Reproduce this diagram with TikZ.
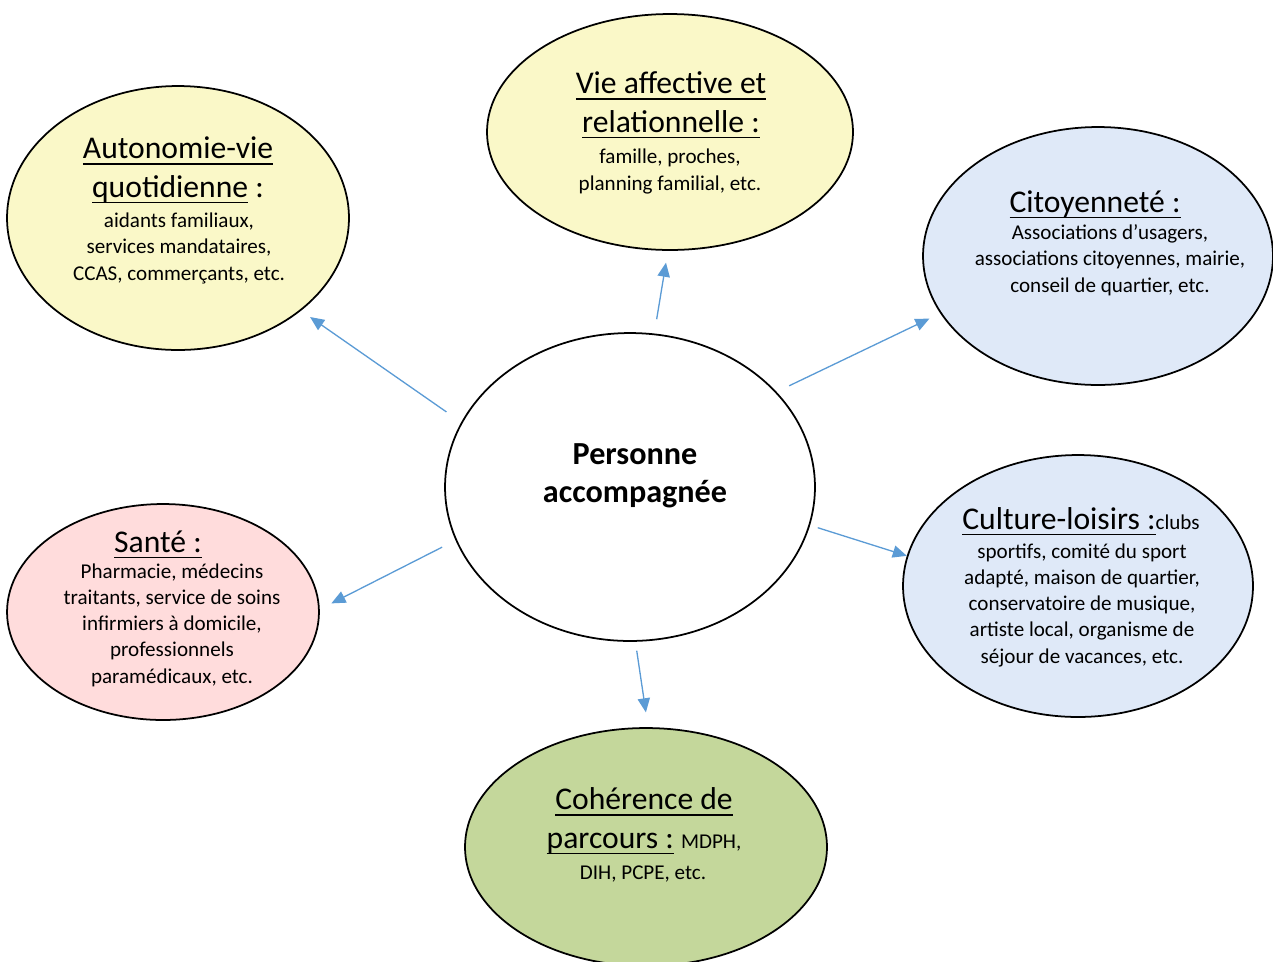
\documentclass[tikz,border=0pt]{standalone}
\usepackage{fontspec}
\setmainfont{Carlito}
\usepackage{tikz}
\usetikzlibrary{shapes.geometric, positioning, arrows.meta}
\definecolor{bubbleyellow}{HTML}{FAF8C8}
\definecolor{bubbleblue}{HTML}{DFE9F8}
\definecolor{bubblepink}{HTML}{FFDCDC}
\definecolor{bubblegreen}{HTML}{C4D79B}
\definecolor{spokeblue}{HTML}{5B9BD5}
\newcommand{\headfont}{\fontsize{18}{22.1}\selectfont}
\newcommand{\bodyfont}{\fontsize{12}{14.9}\selectfont}
\newcommand{\tuline}[1]{\setbox0\hbox{#1}\rlap{\rule[-0.2em]{\wd0}{1pt}}\box0} % underline at a fixed depth
\tikzset{
bubble/.style={ellipse, draw, line width=1pt, inner sep=0pt}, % every ellipse of the diagram
heading/.style={anchor=base, align=center, font=\headfont}, % underlined title of a bubble (base = last line)
detail/.style={anchor=base, align=center, font=\bodyfont}, % list of partners under the title
spoke/.style={draw=spokeblue, line width=0.75pt, -{Triangle[length=8pt, width=7pt]}}, % arrows leaving the centre
}

\begin{document}
\begin{tikzpicture}[x=0.02cm, y=-0.02cm]
        \useasboundingbox (0,0) rectangle (1273,961);

        \node[bubble, minimum width=7.4cm, minimum height=6.16cm] (pers) at (630,487) {};
        \node[bubble, fill=bubbleyellow, minimum width=6.84cm, minimum height=5.28cm] (auto) at (178,218) {};
        \node[bubble, fill=bubbleyellow, minimum width=7.32cm, minimum height=4.72cm] (vie) at (670,132) {};
        \node[bubble, fill=bubbleblue, minimum width=7cm, minimum height=5.16cm] (cito) at (1098,256) {};
        \node[bubble, fill=bubblepink, minimum width=6.24cm, minimum height=4.32cm] (sante) at (163,612) {};
        \node[bubble, fill=bubbleblue, minimum width=7cm, minimum height=5.24cm] (loisirs) at (1078,586) {};
        \node[bubble, fill=bubblegreen, minimum width=7.24cm, minimum height=4.76cm] (parcours) at (646,847) {};

        \node[anchor=base, align=center, font=\fontsize{18.3}{21.6}\selectfont\bfseries] (perstext) at (635,502) {Personne\\accompagnée};

        \node[heading] (autotitle) at (178,197) {\tuline{Autonomie-vie}\\\tuline{quotidienne}\ :};
        \node[detail] (autotext) at (179,280) {aidants familiaux,\\services mandataires,\\CCAS, commerçants, etc.};

        \node[heading] (vietitle) at (671,132) {\tuline{Vie affective et}\\\tuline{relationnelle :}};
        \node[detail] (vietext) at (670,190) {famille, proches,\\planning familial, etc.};

        \node[heading] (citotitle) at (1095,212) {\tuline{Citoyenneté :}};
        \node[detail] (citotext) at (1110,292) {Associations d’usagers,\\associations citoyennes, mairie,\\conseil de quartier, etc.};

        \node[heading] (santetitle) at (158,552) {\tuline{Santé :}};
        \node[detail] (santetext) at (172,683) {Pharmacie, médecins\\traitants, service de soins\\infirmiers à domicile,\\professionnels\\paramédicaux, etc.};

        \node[heading] (loisirstitle) at (1081,529) {\tuline{Culture-loisirs :}{\bodyfont clubs}};
        \node[detail] (loisirstext) at (1082,663) {sportifs, comité du sport\\adapté, maison de quartier,\\conservatoire de musique,\\artiste local, organisme de\\séjour de vacances, etc.};

        \node[heading] (parcourstitle) at (644,848) {\tuline{Cohérence de}\\\tuline{parcours :}\ {\bodyfont MDPH,}};
        \node[detail] (parcourstext) at (643,879) {DIH, PCPE, etc.};

        \draw[spoke, shorten <=0.36cm, shorten >=0.22cm] (pers.159.5) -- (auto.-37.7);
        \draw[spoke, shorten <=0.29cm, shorten >=0.24cm] (pers.81.5) -- (vie.-91.9);
        \draw[spoke, shorten <=0.28cm, shorten >=0.24cm] (pers.33.1) -- (cito.-160.1);
        \draw[spoke, shorten <=0.3cm, shorten >=0.26cm] (pers.-163.5) -- (sante.1.6);
        \draw[spoke, shorten <=0.16cm] (pers.-12.6) -- (loisirs.170.2);
        \draw[spoke, shorten <=0.18cm, shorten >=0.3cm] (pers.-88.3) -- (parcours.89.5);

    \end{tikzpicture}
\end{document}
